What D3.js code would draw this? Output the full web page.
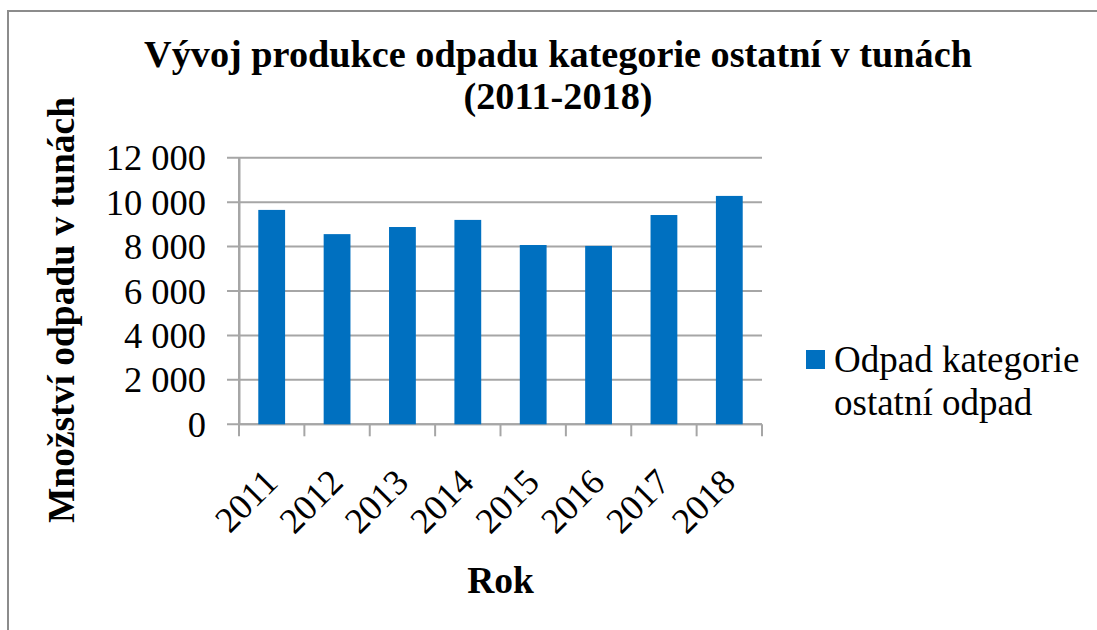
<!DOCTYPE html>
<html><head><meta charset="utf-8">
<script src="https://cdn.jsdelivr.net/npm/d3@7"></script>
<style>
html,body{margin:0;padding:0;background:#fff;}
svg{display:block;}
</style></head>
<body>
<svg id="c" width="1097" height="630"></svg>
<script>
const categories = ["2011","2012","2013","2014","2015","2016","2017","2018"];
const values = [9650, 8560, 8880, 9200, 8070, 8030, 9420, 10280];
const yTicks = [0, 2000, 4000, 6000, 8000, 10000, 12000];
const titleLines = ["Vývoj produkce odpadu kategorie ostatní v tunách", "(2011-2018)"];
const yTitle = "Množství odpadu v tunách";
const xTitle = "Rok";
const legendLines = ["Odpad kategorie", "ostatní odpad"];

const FONT = '"Liberation Serif", "Times New Roman", Tinos, serif';
const svg = d3.select("#c");
const W = 1097, H = 630;
const plot = {left: 239, right: 762, top: 157.7, bottom: 424.3};
const barColor = "#0070C0";
const gridColor = "#a6a6a6";

function txt(sel, size, bold) {
  return sel.style("font-family", FONT).style("font-size", size + "px")
    .style("font-weight", bold ? "bold" : "normal").attr("fill", "#000");
}

// outer border
svg.append("path").attr("d", `M8,${H} L8,11 L${W},11`)
  .attr("fill","none").attr("stroke","#8c8c8c").attr("stroke-width",2);

const x = d3.scaleBand().domain(categories).range([plot.left, plot.right]).paddingInner(0.59).paddingOuter(0.295);
const xb = d3.scaleBand().domain(categories).range([plot.left, plot.right]);
const y = d3.scaleLinear().domain([0, 12000]).range([plot.bottom, plot.top]);

const fmt = v => d3.format(",")(v).replace(/,/g, "\u00a0");

// grid
svg.append("g").selectAll("line").data(yTicks).join("line")
  .attr("x1", plot.left - 12).attr("x2", plot.right)
  .attr("y1", d => y(d)).attr("y2", d => y(d))
  .attr("stroke", gridColor).attr("stroke-width", 2);

// y axis
const yAxis = d3.axisLeft(y).tickValues(yTicks).tickFormat(fmt).tickSize(0).tickPadding(33);
const gy = svg.append("g").attr("transform", `translate(${plot.left},0)`).call(yAxis);
gy.attr("font-family", null).attr("font-size", null);
gy.select(".domain").attr("stroke", gridColor).attr("stroke-width", 2);
txt(gy.selectAll("text"), 36.5, false).attr("dy","0.33em");

// x axis line and ticks
svg.append("line").attr("x1", plot.left).attr("x2", plot.right).attr("y1", plot.bottom).attr("y2", plot.bottom)
  .attr("stroke", gridColor).attr("stroke-width", 2);
const bounds = categories.map(c => xb(c)).concat([plot.right]);
svg.append("g").selectAll("line").data(bounds).join("line")
  .attr("x1", d => d).attr("x2", d => d)
  .attr("y1", (d,i) => i === 0 ? plot.top : plot.bottom).attr("y2", plot.bottom + 12)
  .attr("stroke", gridColor).attr("stroke-width", 2);

// bars
svg.append("g").selectAll("rect").data(values).join("rect")
  .attr("x", (d,i) => x(categories[i]))
  .attr("width", x.bandwidth())
  .attr("y", d => y(d))
  .attr("height", d => y(0) - y(d))
  .attr("fill", barColor);

// x labels rotated
txt(svg.append("g").selectAll("text").data(categories).join("text"), 36, false)
  .attr("transform", d => `translate(${xb(d) + xb.bandwidth()/2 + 8},${plot.bottom + 60}) rotate(-45)`)
  .attr("text-anchor","end")
  .text(d => d);

// title
const tt = txt(svg.append("g").selectAll("text").data(titleLines).join("text"), 38, true)
  .attr("x", 558).attr("y", (d,i) => 66.7 + i*42)
  .attr("text-anchor","middle")
  .text(d => d);
const tw = tt.nodes()[0].getComputedTextLength();
const tSize = 38 * 828 / tw;
tt.style("font-size", tSize + "px");

// y title
txt(svg.append("text"), 37.5, true).attr("transform", "translate(74,310) rotate(-90)")
  .attr("text-anchor","middle")
  .text(yTitle);

// x title
txt(svg.append("text"), 37.5, true).attr("x", 500.5).attr("y", 593)
  .attr("text-anchor","middle")
  .text(xTitle);

// legend
svg.append("rect").attr("x", 806).attr("y", 350).attr("width", 19).attr("height", 19).attr("fill", barColor);
txt(svg.append("g").selectAll("text").data(legendLines).join("text"), 37, false)
  .attr("x", 834).attr("y", (d,i) => 372 + i*43)
  .text(d => d);
</script>
</body></html>
